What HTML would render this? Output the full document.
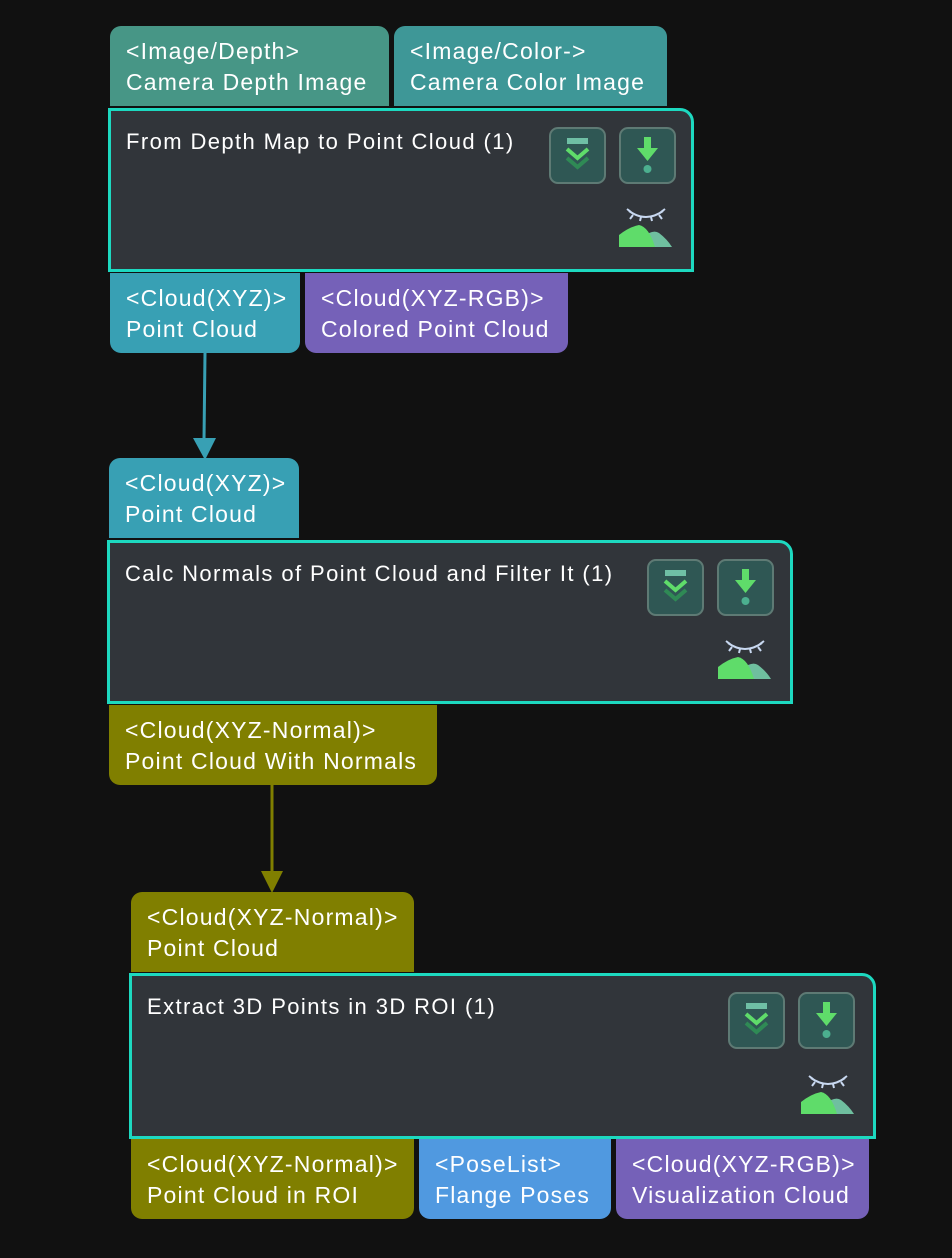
<!DOCTYPE html>
<html><head><meta charset="utf-8"><style>
body{margin:0;width:952px;height:1258px;background:#111111;position:relative;overflow:hidden;font-family:"Liberation Sans",sans-serif;}
.p{position:absolute;color:#fff;font-size:23px;letter-spacing:1.2px;line-height:31px;padding:10px 0 0 16px;box-sizing:border-box;white-space:nowrap}
.in{border-radius:11px 11px 0 0}
.out{border-radius:0 0 11px 11px;padding-top:10px}
.n{position:absolute;background:#31353a;border:3px solid #1dd9c0;border-radius:0 14px 0 0;box-sizing:border-box;color:#fff;font-size:22px;letter-spacing:1.4px}
.n .t{position:absolute;left:15px;top:18px;white-space:nowrap}
.b{position:absolute;top:16px;width:57px;height:57px;border:2px solid #5e7a74;border-radius:9px;background:#2f5754;box-sizing:border-box}
.ic{position:absolute;right:18px;bottom:16px}
</style></head><body>
<svg width="952" height="1258" style="position:absolute;left:0;top:0">
<line x1="205" y1="353" x2="204" y2="440" stroke="#38a0b4" stroke-width="3"/>
<polygon points="193,438 216,438 205,460" fill="#38a0b4"/>
<line x1="272" y1="785" x2="272" y2="873" stroke="#807f00" stroke-width="3"/>
<polygon points="261,871 283,871 272,893" fill="#807f00"/>
</svg>

<div class="p in" style="left:110px;top:26px;width:279px;height:80px;background:#479686">&lt;Image/Depth&gt;<br>Camera Depth Image</div>
<div class="p in" style="left:394px;top:26px;width:273px;height:80px;background:#3e9797">&lt;Image/Color-&gt;<br>Camera Color Image</div>
<div class="n" style="left:108px;top:108px;width:586px;height:164px"><div class="t">From Depth Map to Point Cloud (1)</div>
<div class="b" style="left:438px"><svg width="53" height="53"><rect x="16" y="9" width="21" height="6" fill="#6fbfa5"/><polyline points="16,20 26.5,29 37,20" fill="none" stroke="#5fdc6a" stroke-width="4"/><polyline points="16,29 26.5,38 37,29" fill="none" stroke="#2f8a55" stroke-width="4"/></svg></div>
<div class="b" style="left:508px"><svg width="53" height="53"><rect x="23" y="8" width="7" height="12" fill="#5fdc6a"/><polygon points="16,19 37,19 26.5,32" fill="#5fdc6a"/><circle cx="26.5" cy="40" r="4" fill="#4caf8f"/></svg></div>
<div class="ic"><svg width="54" height="42"><path d="M10,6 Q27,18 44,6" fill="none" stroke="#c8d8f0" stroke-width="2"/><path d="M14,10 l-3,4 M22,12 l-1,4 M32,12 l1,4 M40,10 l3,4 M8,4 l4,3 M46,4 l-4,3" stroke="#c8d8f0" stroke-width="2"/><path d="M24,32 Q34,24 40,28 Q48,34 53,42 L30,42Z" fill="#6fbf9f"/><path d="M0,42 L0,30 Q10,22 20,20 Q30,22 36,42Z" fill="#5fdc6a"/></svg></div>
</div>
<div class="p out" style="left:110px;top:273px;width:190px;height:80px;background:#38a0b4">&lt;Cloud(XYZ)&gt;<br>Point Cloud</div>
<div class="p out" style="left:305px;top:273px;width:263px;height:80px;background:#7561b8">&lt;Cloud(XYZ-RGB)&gt;<br>Colored Point Cloud</div>

<div class="p in" style="left:109px;top:458px;width:190px;height:80px;background:#38a0b4">&lt;Cloud(XYZ)&gt;<br>Point Cloud</div>
<div class="n" style="left:107px;top:540px;width:686px;height:164px"><div class="t">Calc Normals of Point Cloud and Filter It (1)</div>
<div class="b" style="left:537px"><svg width="53" height="53"><rect x="16" y="9" width="21" height="6" fill="#6fbfa5"/><polyline points="16,20 26.5,29 37,20" fill="none" stroke="#5fdc6a" stroke-width="4"/><polyline points="16,29 26.5,38 37,29" fill="none" stroke="#2f8a55" stroke-width="4"/></svg></div>
<div class="b" style="left:607px"><svg width="53" height="53"><rect x="23" y="8" width="7" height="12" fill="#5fdc6a"/><polygon points="16,19 37,19 26.5,32" fill="#5fdc6a"/><circle cx="26.5" cy="40" r="4" fill="#4caf8f"/></svg></div>
<div class="ic"><svg width="54" height="42"><path d="M10,6 Q27,18 44,6" fill="none" stroke="#c8d8f0" stroke-width="2"/><path d="M14,10 l-3,4 M22,12 l-1,4 M32,12 l1,4 M40,10 l3,4 M8,4 l4,3 M46,4 l-4,3" stroke="#c8d8f0" stroke-width="2"/><path d="M24,32 Q34,24 40,28 Q48,34 53,42 L30,42Z" fill="#6fbf9f"/><path d="M0,42 L0,30 Q10,22 20,20 Q30,22 36,42Z" fill="#5fdc6a"/></svg></div>
</div>
<div class="p out" style="left:109px;top:705px;width:328px;height:80px;background:#807f00">&lt;Cloud(XYZ-Normal)&gt;<br>Point Cloud With Normals</div>

<div class="p in" style="left:131px;top:892px;width:283px;height:80px;background:#807f00">&lt;Cloud(XYZ-Normal)&gt;<br>Point Cloud</div>
<div class="n" style="left:129px;top:973px;width:747px;height:166px"><div class="t">Extract 3D Points in 3D ROI (1)</div>
<div class="b" style="left:596px"><svg width="53" height="53"><rect x="16" y="9" width="21" height="6" fill="#6fbfa5"/><polyline points="16,20 26.5,29 37,20" fill="none" stroke="#5fdc6a" stroke-width="4"/><polyline points="16,29 26.5,38 37,29" fill="none" stroke="#2f8a55" stroke-width="4"/></svg></div>
<div class="b" style="left:666px"><svg width="53" height="53"><rect x="23" y="8" width="7" height="12" fill="#5fdc6a"/><polygon points="16,19 37,19 26.5,32" fill="#5fdc6a"/><circle cx="26.5" cy="40" r="4" fill="#4caf8f"/></svg></div>
<div class="ic"><svg width="54" height="42"><path d="M10,6 Q27,18 44,6" fill="none" stroke="#c8d8f0" stroke-width="2"/><path d="M14,10 l-3,4 M22,12 l-1,4 M32,12 l1,4 M40,10 l3,4 M8,4 l4,3 M46,4 l-4,3" stroke="#c8d8f0" stroke-width="2"/><path d="M24,32 Q34,24 40,28 Q48,34 53,42 L30,42Z" fill="#6fbf9f"/><path d="M0,42 L0,30 Q10,22 20,20 Q30,22 36,42Z" fill="#5fdc6a"/></svg></div>
</div>
<div class="p out" style="left:131px;top:1139px;width:283px;height:80px;background:#807f00">&lt;Cloud(XYZ-Normal)&gt;<br>Point Cloud in ROI</div>
<div class="p out" style="left:419px;top:1139px;width:192px;height:80px;background:#5099e0">&lt;PoseList&gt;<br>Flange Poses</div>
<div class="p out" style="left:616px;top:1139px;width:253px;height:80px;background:#7561b8">&lt;Cloud(XYZ-RGB)&gt;<br>Visualization Cloud</div>
</body></html>
